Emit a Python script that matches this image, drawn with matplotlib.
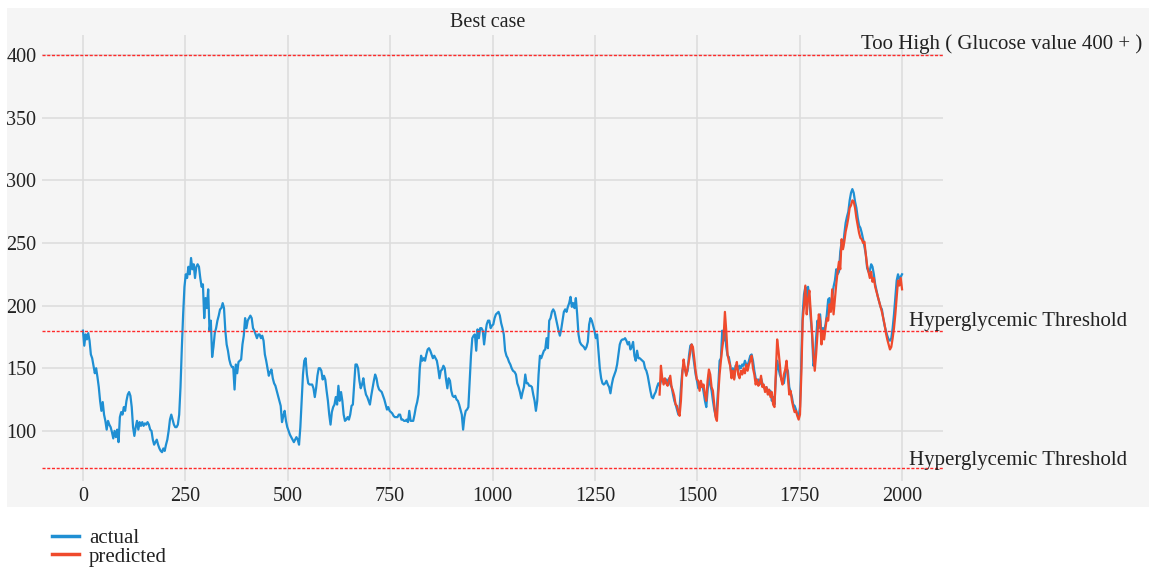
import numpy as np
import matplotlib
matplotlib.use("Agg")
import matplotlib.pyplot as plt
from matplotlib.patches import Rectangle

# ---------------- data ----------------
actual_seg1 = [180,168,177,173,178,172,161,158,152,146,150,143,135,124,116,123,113,108,101,108,105,103,99,94,100,95,101,91,111,115,113,119,116,124,129,131,128,119,103,96,103,108,101,107,104,107,104,106,105,107,105,101,100,93,89,91,93,89,86,84,83,86,84,89,93,100,109,113,109,105,103,103,105,113,135,166,193,215,225,222,231,225,238,229,233,222,231,233,231,222,215,217,190,206,198,213,180,188,159,167,178,182,188,192,197,198,202,198,180,169,164,157,153,151,151,133,153,146,155,156,157,169,176,190,182,188,190,192,190,182,180,177,174,177,177,174,176,172,161,156,150,144,147,149,142,138,136,132,128,124,120,107,112,116,108,103,100,97,95,93,91]
actual_seg2 = [93,95,93,89,103,124,145,156,158,145,138,137,137,137,134,127,134,144,150,150,148,141,144,141,132,124,113,105,115,119,121,127,121,136,124,131,124,113,108,109,111,109,113,120,121,137,153,153,150,140,134,137,142,134,129,127,124,121,128,134,140,145,142,136,133,132,131,128,125,121,117,119,116,115,114,112,111,111,111,113,113,109,109,108,108,109,107,116,108,108,108,113,119,123,129,150,160,156,158,156,161,165,166,164,161,158,160,158,156,150,142,148,149,152,150,141,134,142,140,132,128,127,128,125,124,121,117,113,101,111,116,117,119,140,160,174,176,177,164,181,174,182,182,180,169,178,185,188,188,182,184,185,190,193,194,195,192,186,182,177,164,160,158,155,153,150,148]
actual_seg3 = [147,145,138,135,131,126,131,135,145,138,138,136,136,135,129,124,116,124,145,160,158,161,164,165,174,166,188,190,195,197,195,190,185,180,176,181,188,195,197,195,199,202,207,199,202,198,206,193,177,171,169,168,167,165,167,171,185,190,188,184,180,174,177,164,150,142,138,137,138,140,137,135,130,137,142,145,148,153,161,169,172,173,173,174,172,169,171,165,167,171,160,156,164,158,158,157,156,155,150,148,144,138,132,127,126,129,131,135,138,136,140,142,140,138,141,138,142,137,135,129,124,121,117,113,119,135,148,153,149,145,148,160,168,169,161,153,145,140,134,137,135,137,131,124,119,132,145,137,132,124,117,112,119,135,156,158,180,172,180,167,160]
actual_seg4 = [159,153,145,150,142,152,153,148,152,150,153,152,156,153,152,156,160,161,156,148,142,140,141,137,142,138,135,133,135,132,129,132,124,127,121,142,156,150,145,142,140,138,145,150,148,135,131,127,121,120,117,113,111,119,156,193,209,215,205,215,205,190,177,152,156,174,188,182,193,177,182,180,185,193,205,206,198,206,215,220,229,225,227,243,251,246,257,266,271,275,284,290,293,290,283,278,270,264,262,258,253,247,241,230,227,228,233,231,225,217,212,207,203,199,197,190,184,180,176,173,172,174,182,193,206,220,225,221,223,225]
actual_spans = [(0, 515), (518, 1050), (1054, 1574), (1577, 2000)]

predicted_seg1 = [129,152,142,137,142,138,136,140,144,135,132,128,121,120,115,112,124,145,157,150,144,150,156,163,169,167,158,148,141,140,132,140,135,137,129,124,140,149,145,135,132,121,111,108,129,145,156,166,174,195,180,161]
predicted_seg2 = [156,152,142,148,141,150,155,145,142,148,145,150,146,153,148,153,156,160,150,145,137,141,136,138,144,135,137,131,135,129,133,127,131,121,119,145,173,164,153,141,137,145,149,156,142,129,132,124,119,115,116,112,109,113,145,188,200,216,193,205,212,195,177,161,148,161,177,193,188,169,180,173,182,190,188,201,195,213,193,205,217,227,235,229,253,245,251,259,264,270,278,280,284,283,278,270,264,258,254,253,250,251,241,232,227,222,227,219,222,215,211,207,203,199,195,190,185,178,173,169,165,167,174,182,193,206,220,216,222,213]
predicted_spans = [(1408, 1574), (1577, 2000)]

too_high = 400
hyper = 180
hypo = 70
x_ticks = [0, 250, 500, 750, 1000, 1250, 1500, 1750, 2000]
y_ticks = [100, 150, 200, 250, 300, 350, 400]

def build(segs, spans):
    xs, ys = [], []
    for vals, (a, b) in zip(segs, spans):
        xs.append(np.linspace(a, b, len(vals)))
        ys.append(np.asarray(vals, dtype=float))
    return np.concatenate(xs), np.concatenate(ys)

ax_x, ax_y = build([actual_seg1, actual_seg2, actual_seg3, actual_seg4], actual_spans)
pr_x, pr_y = build([predicted_seg1, predicted_seg2], predicted_spans)

# ---------------- figure ----------------
plt.rcParams['font.family'] = ['Liberation Serif', 'DejaVu Serif']
W, H = 1149, 569
fig = plt.figure(figsize=(W / 100, H / 100), dpi=100, facecolor='white')
bg = '#f5f5f5'
fig.patches.append(Rectangle((7 / W, 1 - 507 / H), 1 - 7 / W, (507 - 8) / H,
                             transform=fig.transFigure, facecolor=bg,
                             edgecolor='none', zorder=-10))

ax = fig.add_axes([42 / W, 1 - 481 / H, (943 - 42) / W, (481 - 35) / H])
ax.set_facecolor(bg)
for s in ax.spines.values():
    s.set_visible(False)
ax.grid(True, color='#dcdcdc', linewidth=1.1)
ax.set_axisbelow(True)

blue = '#1f8fd3'
red = '#ef4a2c'
ax.plot(ax_x, ax_y, color=blue, linewidth=1.6, label='actual')
ax.plot(pr_x, pr_y, color=red, linewidth=1.6, label='predicted')

for yv in (too_high, hyper, hypo):
    ax.axhline(yv, color='#ff2a2a', linewidth=1.0, linestyle=(0, (2.2, 1.2)))

ax.set_xlim(-100, 2100)
ax.set_ylim(60, 416)
ax.set_xticks(x_ticks)
ax.set_yticks(y_ticks)
ax.tick_params(length=0, labelsize=14.5, colors='#222222')
ax.tick_params(axis='x', pad=4.5)
ax.tick_params(axis='y', pad=4)

tc = '#222222'
ax.set_title('Best case', fontsize=14.5, color=tc, pad=6, x=0.495)
txt_kw = dict(fontsize=15, color=tc, ha='left', va='baseline', clip_on=False)
ax.text(1900, 405, 'Too High ( Glucose value 400 + )', **txt_kw)
ax.text(2018, 184, 'Hyperglycemic Threshold', **txt_kw)
ax.text(2018, 73, 'Hyperglycemic Threshold', **txt_kw)

leg = fig.legend(loc='upper left', bbox_to_anchor=(37 / W, 1 - 514 / H),
                 frameon=False, fontsize=15, handlelength=1.3,
                 handletextpad=0.5, labelspacing=-0.05, borderpad=0.2)
for t in leg.get_texts():
    t.set_color(tc)
for l in leg.get_lines():
    l.set_linewidth(2.5)

fig.savefig('out.png', dpi=100, facecolor='white')
